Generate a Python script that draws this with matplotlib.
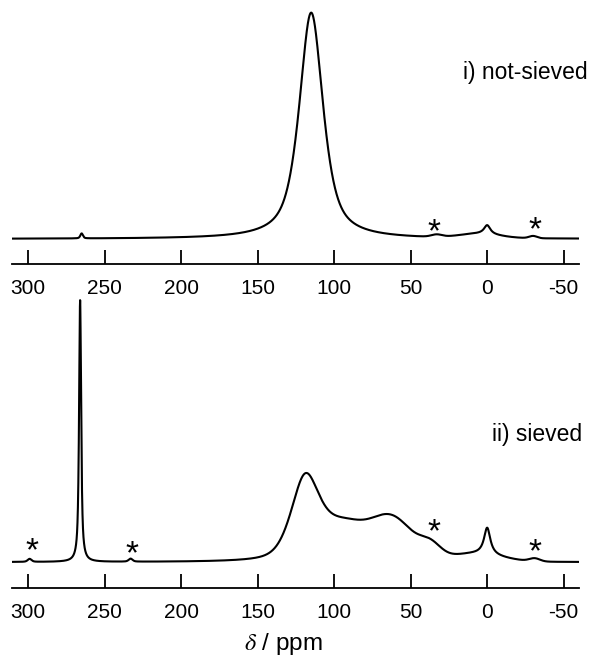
import numpy as np
import matplotlib
matplotlib.use("Agg")
import matplotlib.pyplot as plt

plt.rcParams['font.family'] = ['Liberation Sans', 'DejaVu Sans']
plt.rcParams['mathtext.fontset'] = 'stix'
plt.rcParams['axes.unicode_minus'] = False

# chemical shift axis (ppm)
ppm_range = (310.5, -60.0)
ticks = [300, 250, 200, 150, 100, 50, 0, -50]

# line parameters: centre (ppm), fwhm (ppm), height, lorentzian fraction
top_centres = [115.0, 265.0, 0.0, 5.0, 33.0, -30.0]
top_widths = [18.5, 2.0, 5.0, 30.0, 8.0, 6.0]
top_heights = [1.0, 0.022, 0.04, 0.018, 0.01, 0.01]
top_eta = [0.7, 0.5, 1.0, 0.0, 0.0, 0.0]

bot_centres = [266.0, 299.0, 233.0, 119.0, 95.0, 63.0, 37.0, 0.0, 8.0, -31.0]
bot_widths = [1.6, 3.0, 3.0, 22.0, 32.0, 34.0, 16.0, 5.0, 40.0, 8.0]
bot_heights = [1.0, 0.0115, 0.0115, 0.313, 0.124, 0.168, 0.045, 0.103, 0.0305, 0.0115]
bot_eta = [0.8, 0.5, 0.5, 0.5, 0.0, 0.0, 0.0, 1.0, 0.0, 0.0]

top_label = 'i) not-sieved'
bot_label = 'ii) sieved'
top_stars = [34.5, -31.0]
top_star_y = [0.058, 0.064]
bot_stars = [297.5, 232.0, 35.0, -31.0]
bot_star_y = [0.065, 0.053, 0.137, 0.061]


def spectrum(x, centres, widths, heights, etas):
    y = np.zeros_like(x)
    for c, w, h, e in zip(centres, widths, heights, etas):
        d = (x - c) / (w / 2.0)
        lor = 1.0 / (1.0 + d ** 2)
        gau = np.exp(-np.log(2) * d ** 2)
        y += h * (e * lor + (1 - e) * gau)
    return y


def star(ax, xs, ys, fs=24):
    # centre the asterisk glyph (not the text box) on the point
    ax.annotate('*', (xs, ys), xytext=(0, -0.45 * fs), textcoords='offset points',
                fontsize=fs, ha='center', va='baseline')


x = np.linspace(ppm_range[0], ppm_range[1], 20000)
y_top = spectrum(x, top_centres, top_widths, top_heights, top_eta)
y_bot = spectrum(x, bot_centres, bot_widths, bot_heights, bot_eta)

fig = plt.figure(figsize=(5.89, 6.59), dpi=100)
ax1 = fig.add_axes([0.0204, 0.5994, 0.9626, 0.389])
ax2 = fig.add_axes([0.0204, 0.1077, 0.9626, 0.444])

for ax, y, lim in [(ax1, y_top, (-0.1106, 1.022)), (ax2, y_bot, (-0.099, 1.019))]:
    ax.plot(x, y, color='black', lw=1.5)
    ax.set_xlim(*ppm_range)
    ax.set_ylim(*lim)
    for s in ['left', 'right', 'top']:
        ax.spines[s].set_visible(False)
    ax.spines['bottom'].set_linewidth(1.3)
    ax.set_yticks([])
    ax.set_xticks(ticks)
    ax.set_xticklabels([str(t) for t in ticks])
    ax.tick_params(axis='x', direction='in', length=10, width=1.3,
                   labelsize=15, pad=11)

for xs, ys in zip(top_stars, top_star_y):
    star(ax1, xs, ys)
for xs, ys in zip(bot_stars, bot_star_y):
    star(ax2, xs, ys)

fig.text(0.998, 1 - 72 / 659, top_label, fontsize=16.5, ha='right', va='center')
fig.text(0.988, 1 - 434 / 659, bot_label, fontsize=16.5, ha='right', va='center')
fig.text(0.482, 1 - 644 / 659, r'$\delta$ / ppm', fontsize=17.5, ha='center', va='center')

fig.savefig('out.png', dpi=100)
